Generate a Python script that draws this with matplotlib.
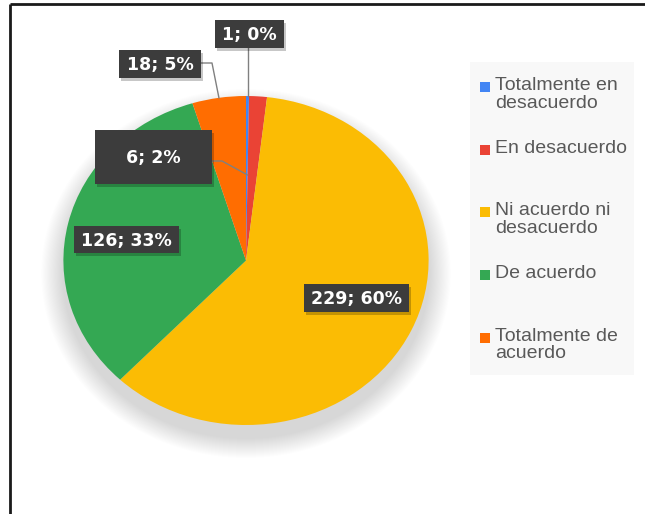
import matplotlib.pyplot as plt
from matplotlib.patches import Rectangle, Ellipse
import numpy as np

W, H = 645, 514
SX = 1.11  # the screenshot is stretched horizontally

categorias = ["Totalmente en\ndesacuerdo", "En desacuerdo", "Ni acuerdo ni\ndesacuerdo",
              "De acuerdo", "Totalmente de\nacuerdo"]
valores = [1, 6, 229, 126, 18]
colores = ["#4285F4", "#EA4335", "#FBBC04", "#34A853", "#FF6D01"]

total = sum(valores)
etiquetas = [f"{v}; {round(100 * v / total)}%" for v in valores]

fig = plt.figure(figsize=(W / 100, H / 100), dpi=100)
fig.patch.set_facecolor("white")

# pie axes, x units squeezed so the circle comes out as a wide ellipse
axp = fig.add_axes([0, 0, 1, 1])
cx, cy, r = 246 / SX, H - 260.5, 164.5

# soft shadow, mostly below the pie
for i in range(20):
    rr = r + 20 * (1 - i / 20)
    axp.add_patch(Ellipse((cx, cy - 13), 2 * rr, 2 * rr, fc="black",
                          ec="none", alpha=0.008, zorder=0))

wedges, _ = axp.pie(valores, colors=colores, startangle=90, counterclock=False,
                    center=(cx, cy), radius=r, frame=True,
                    wedgeprops=dict(linewidth=0))
axp.set_aspect("auto")
axp.set_xlim(0, W / SX)
axp.set_ylim(0, H)
axp.axis("off")

# overlay in pixel coordinates (y down)
ax = fig.add_axes([0, 0, 1, 1])
ax.set_xlim(0, W)
ax.set_ylim(H, 0)
ax.axis("off")
ax.patch.set_alpha(0)


def wedge_point(w, frac, ang=None):
    a = np.deg2rad((w.theta1 + w.theta2) / 2 if ang is None else ang)
    x = (cx + frac * r * np.cos(a)) * SX
    y = H - (cy + frac * r * np.sin(a))
    return x, y


# label boxes (left, top, right, bottom) in px
cajas = [(215, 20, 284, 48), (95, 130, 212, 184), (304, 284, 409, 312),
         (74, 226, 179, 253), (119, 50, 201, 78)]

# leader lines
bx, by = wedge_point(wedges[0], 1.0)
ax.plot([bx, bx], [48, by], color="#808080", lw=1, zorder=3)
ox, oy = wedge_point(wedges[4], 1.0)
ax.plot([201, 212, ox], [63, 63, oy], color="#808080", lw=1, zorder=3)
rx, ry = wedge_point(wedges[1], 0.52, ang=wedges[1].theta2)
ax.plot([212, 222, rx], [161, 161, ry], color="#808080", lw=1, zorder=3)

for (x0, y0, x1, y1), txt in zip(cajas, etiquetas):
    ax.add_patch(Rectangle((x0 + 2, y0 + 3), x1 - x0, y1 - y0, fc="black",
                           ec="none", alpha=0.22, zorder=4))
    ax.add_patch(Rectangle((x0, y0), x1 - x0, y1 - y0, fc="#3c3c3c",
                           ec="none", zorder=5))
    ax.text((x0 + x1) / 2, (y0 + y1) / 2 + 1, txt, color="white", fontsize=12.5,
            fontweight="bold", family="DejaVu Sans", ha="center", va="center",
            zorder=6)

# legend
ax.add_patch(Rectangle((470, 62), 164, 313, fc="#f8f8f8", ec="none", zorder=1))
for i, (cat, col) in enumerate(zip(categorias, colores)):
    top = 79 + i * 62.7
    ax.add_patch(Rectangle((480, top + 3), 10, 10, fc=col, ec="none", zorder=2))
    ax.text(495, top - 2, cat, color="#595959", fontsize=14,
            family="Liberation Sans", ha="left", va="top", linespacing=1.05,
            zorder=2)

# frame of the screenshot
ax.plot([10, W], [4, 4], color="#1a1a1a", lw=2, zorder=7, solid_capstyle="butt")
ax.plot([10, 10], [4, H], color="#1a1a1a", lw=2, zorder=7, solid_capstyle="butt")

fig.savefig("out.png", dpi=100)
